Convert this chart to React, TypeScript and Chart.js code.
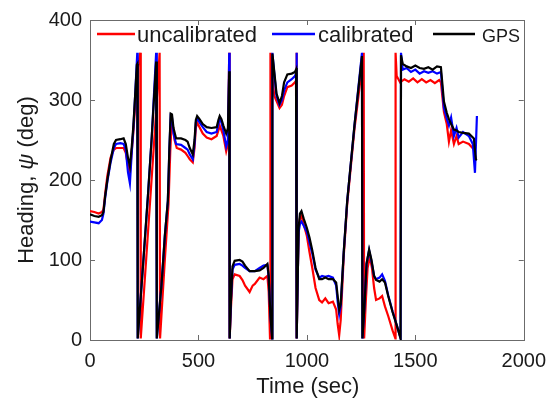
import React, { useEffect, useRef } from 'react';
import { Chart, registerables } from 'chart.js';

Chart.register(...registerables);

// ---- data (time in sec, heading in deg) ----
const xTicks = [0, 500, 1000, 1500, 2000];
const yTicks = [0, 100, 200, 300, 400];

const uncalibrated: [number, number][] = [
  [0,161],[20,160],[40,158],[55,160],[62,163],[70,183],[80,205],[95,228],[110,238],[120,240],[140,240],[155,240],[165,234],[175,218],[184,210],[192,235],[200,260],[210,300],[222,345],[232,359],[234,2],
  [255,85],[280,185],[300,265],[318,345],[321,359],[323,2],
  [345,100],[362,170],[370,235],[376,270],[382,268],[390,250],[400,240],[420,238],[440,234],[450,230],[460,226],[474,222],[482,240],[488,265],[494,272],[505,266],[520,258],[538,253],[560,251],[584,255],[592,262],[598,268],[606,262],[615,255],[628,236],[636,245],[642,359],[644,2],
  [650,40],[657,76],[667,82],[690,80],[703,75],[715,68],[736,60],[750,68],[760,70],[782,78],[800,76],[818,80],[824,60],[830,2],[832,359],
  [840,330],[850,305],[874,290],[885,294],[895,305],[910,316],[930,318],[945,322],[950,324],[952,359],[954,2],
  [958,80],[962,140],[968,152],[975,155],[985,145],[1000,130],[1012,110],[1025,90],[1040,65],[1057,50],[1070,47],[1085,52],[1100,46],[1120,48],[1135,38],[1142,20],[1149,6],[1156,25],[1170,105],[1186,170],[1220,265],[1262,359],[1264,2],
  [1272,50],[1280,90],[1290,104],[1300,90],[1310,65],[1319,50],[1335,52],[1347,55],[1360,42],[1375,30],[1395,12],[1408,2],[1409,359],
  [1414,330],[1430,322],[1450,326],[1470,323],[1490,327],[1510,322],[1530,326],[1550,322],[1570,325],[1590,321],[1610,325],[1618,322],[1632,285],[1645,270],[1655,248],[1665,262],[1678,245],[1690,255],[1700,245],[1720,248],[1747,245],[1770,238],[1779,226]
];

const calibrated: [number, number][] = [
  [0,148],[20,147],[40,146],[55,150],[62,158],[70,178],[80,198],[95,222],[110,240],[120,245],[140,246],[155,245],[165,238],[175,210],[184,196],[192,232],[200,265],[208,305],[218,359],[220,2],
  [245,95],[267,180],[285,255],[305,359],[308,2],
  [330,70],[345,130],[359,174],[366,238],[372,280],[378,278],[385,258],[397,245],[420,244],[440,240],[450,238],[460,232],[474,226],[482,245],[488,272],[494,277],[505,272],[520,266],[538,260],[560,258],[584,260],[592,270],[598,276],[606,272],[615,262],[628,242],[636,250],[642,359],[644,2],
  [650,50],[657,88],[667,94],[690,95],[703,93],[715,90],[736,86],[760,86],[782,90],[800,93],[818,94],[824,78],[832,30],[840,2],[841,359],
  [848,338],[860,305],[874,294],[885,300],[895,312],[910,322],[930,326],[945,330],[950,333],[952,359],[954,2],
  [958,80],[962,135],[968,145],[975,148],[985,143],[1000,135],[1012,122],[1025,108],[1040,88],[1057,78],[1070,80],[1085,79],[1100,80],[1120,78],[1135,68],[1142,48],[1149,32],[1156,42],[1170,110],[1186,174],[1220,270],[1254,359],[1256,2],
  [1265,40],[1275,95],[1287,112],[1298,98],[1310,80],[1319,76],[1335,78],[1347,82],[1360,74],[1375,56],[1395,36],[1415,18],[1432,2],[1434,359],
  [1442,338],[1460,340],[1480,335],[1500,338],[1520,333],[1540,336],[1560,334],[1580,336],[1600,333],[1618,335],[1632,290],[1645,277],[1655,268],[1665,278],[1678,255],[1690,265],[1700,253],[1720,260],[1747,255],[1765,245],[1775,209],[1784,280]
];

const gps: [number, number][] = [
  [0,157],[20,155],[40,154],[55,156],[62,160],[70,180],[80,200],[95,225],[110,245],[120,250],[140,251],[155,252],[165,245],[175,228],[184,217],[192,240],[200,268],[208,305],[216,344],[218,345],[220,2],
  [245,95],[267,180],[285,255],[305,348],[308,2],
  [330,70],[345,130],[359,174],[366,240],[372,283],[378,282],[385,265],[397,252],[420,252],[440,250],[450,248],[460,240],[474,232],[482,250],[488,275],[494,280],[505,276],[520,270],[538,266],[560,265],[584,266],[592,275],[598,280],[606,276],[615,268],[628,258],[636,265],[642,336],[644,2],
  [650,50],[657,92],[667,99],[690,100],[703,98],[715,93],[736,86],[760,86],[782,87],[800,90],[818,95],[824,80],[832,30],[840,2],[841,358],
  [848,340],[860,308],[874,296],[885,305],[895,322],[910,332],[930,333],[945,335],[950,338],[952,340],[954,2],
  [958,80],[962,140],[968,158],[975,161],[985,152],[1000,140],[1012,128],[1025,112],[1040,90],[1057,76],[1070,76],[1085,78],[1100,76],[1120,76],[1135,72],[1142,55],[1149,38],[1156,45],[1170,110],[1186,174],[1220,270],[1254,355],[1256,2],
  [1265,40],[1275,95],[1287,113],[1298,100],[1310,80],[1319,75],[1335,73],[1347,76],[1360,72],[1375,55],[1395,35],[1415,18],[1432,2],[1434,356],
  [1442,345],[1460,342],[1480,340],[1500,343],[1520,340],[1540,339],[1560,341],[1580,338],[1600,342],[1618,341],[1632,298],[1645,284],[1655,276],[1665,270],[1678,263],[1690,262],[1700,260],[1720,259],[1747,258],[1770,252],[1779,226],[1784,225]
];

const seriesNames = ['uncalibrated', 'calibrated', 'GPS'];
const seriesColors = ['#ff0000', '#0000ff', '#000000'];

const FONT = '"Liberation Sans", Arial, Helvetica, sans-serif';
const AXIS_COLOR = '#6b6b6b';
const TEXT_COLOR = '#1a1a1a';

const decorPlugin = {
  id: 'decor',
  beforeDatasetsDraw(chart: any) {
    const { ctx, chartArea: a, scales } = chart;
    ctx.save();
    ctx.strokeStyle = AXIS_COLOR;
    ctx.lineWidth = 1;
    ctx.strokeRect(Math.round(a.left) + 0.5, Math.round(a.top) + 0.5, Math.round(a.right - a.left), Math.round(a.bottom - a.top));
    const tl = 5;
    ctx.beginPath();
    xTicks.forEach((v) => {
      const px = Math.round(scales.x.getPixelForValue(v)) + 0.5;
      ctx.moveTo(px, a.bottom); ctx.lineTo(px, a.bottom - tl);
      ctx.moveTo(px, a.top); ctx.lineTo(px, a.top + tl);
    });
    yTicks.forEach((v) => {
      const py = Math.round(scales.y.getPixelForValue(v)) + 0.5;
      ctx.moveTo(a.left, py); ctx.lineTo(a.left + tl, py);
      ctx.moveTo(a.right, py); ctx.lineTo(a.right - tl, py);
    });
    ctx.stroke();
    ctx.restore();
  },
  afterDraw(chart: any) {
    const { ctx, chartArea: a } = chart;
    ctx.save();
    // x title
    ctx.fillStyle = TEXT_COLOR;
    ctx.font = `22px ${FONT}`;
    ctx.textAlign = 'center';
    ctx.textBaseline = 'alphabetic';
    ctx.fillText('Time (sec)', (a.left + a.right) / 2 + 1, 393);
    // y title with italic psi
    const parts = [
      { t: 'Heading, ', f: `22px ${FONT}` },
      { t: 'ψ', f: `italic 22px ${FONT}` },
      { t: ' (deg)', f: `22px ${FONT}` },
    ];
    let total = 0;
    const widths = parts.map((p) => { ctx.font = p.f; const w = ctx.measureText(p.t).width; total += w; return w; });
    ctx.translate(33, (a.top + a.bottom) / 2);
    ctx.rotate(-Math.PI / 2);
    ctx.textAlign = 'left';
    let x = -total / 2;
    parts.forEach((p, i) => { ctx.font = p.f; ctx.fillText(p.t, x, 0); x += widths[i]; });
    ctx.restore();

    // legend
    ctx.save();
    const items = [
      { x1: 97, x2: 135, tx: 137, size: 22 },
      { x1: 272, x2: 315, tx: 318, size: 22 },
      { x1: 433, x2: 475, tx: 482, size: 18 },
    ];
    items.forEach((it, i) => {
      ctx.strokeStyle = seriesColors[i];
      ctx.lineWidth = 2.5;
      ctx.beginPath();
      ctx.moveTo(it.x1, 34); ctx.lineTo(it.x2, 34);
      ctx.stroke();
      ctx.fillStyle = TEXT_COLOR;
      ctx.font = `${it.size}px ${FONT}`;
      ctx.textAlign = 'left';
      ctx.textBaseline = 'alphabetic';
      ctx.fillText(seriesNames[i], it.tx, 42);
    });
    ctx.restore();
  },
};

export default function App() {
  const ref = useRef<HTMLCanvasElement | null>(null);
  useEffect(() => {
    document.body.style.margin = '0';
    if (!ref.current) return;
    const toPts = (arr: [number, number][]) => arr.map(([x, y]) => ({ x, y }));
    const sets = [uncalibrated, calibrated, gps];
    const chart = new Chart(ref.current, {
      type: 'line',
      data: {
        datasets: sets.map((s, i) => ({
          label: seriesNames[i],
          data: toPts(s),
          borderColor: seriesColors[i],
          backgroundColor: seriesColors[i],
          borderWidth: 2.2,
          pointRadius: 0,
          tension: 0,
          fill: false,
          order: 3 - i,
        })),
      },
      options: {
        responsive: false,
        animation: false,
        events: [],
        layout: { padding: { top: 18, right: 30, left: 0, bottom: 0 } },
        plugins: { legend: { display: false }, tooltip: { enabled: false }, title: { display: false } },
        scales: {
          x: {
            type: 'linear',
            min: 0,
            max: 2000,
            afterFit: (s: any) => { s.height = 60; },
            afterBuildTicks: (s: any) => { s.ticks = xTicks.map((v) => ({ value: v })); },
            ticks: { stepSize: 500, padding: 9, color: TEXT_COLOR, font: { family: FONT, size: 20 }, maxRotation: 0, autoSkip: false, callback: (v: any) => String(v) },
            grid: { display: false, drawTicks: false },
            border: { display: false },
          },
          y: {
            type: 'linear',
            min: 0,
            max: 400,
            afterFit: (s: any) => { s.width = 90; },
            afterBuildTicks: (s: any) => { s.ticks = yTicks.map((v) => ({ value: v })); },
            ticks: { stepSize: 100, padding: 8, color: TEXT_COLOR, font: { family: FONT, size: 20 }, autoSkip: false, callback: (v: any) => String(v) },
            grid: { display: false, drawTicks: false },
            border: { display: false },
          },
        },
      },
      plugins: [decorPlugin],
    });
    return () => chart.destroy();
  }, []);
  return <canvas ref={ref} width={555} height={400} style={{ display: 'block' }} />;
}
